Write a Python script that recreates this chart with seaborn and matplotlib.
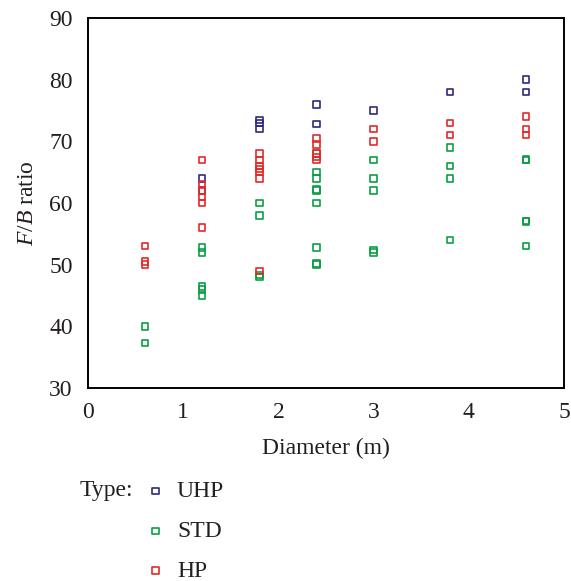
import matplotlib
matplotlib.use("Agg")
import matplotlib.pyplot as plt
import seaborn as sns
import pandas as pd

# values
uhp_x = [1.2, 1.2, 1.8, 1.8, 1.8, 2.4, 2.4, 3.0, 3.8, 4.6, 4.6]
uhp_y = [64, 62, 73.5, 73, 72, 76, 72.8, 75, 78, 80, 78]

std_x = [0.6, 0.6,
         1.2, 1.2, 1.2, 1.2, 1.2,
         1.8, 1.8, 1.8, 1.8,
         2.4, 2.4, 2.4, 2.4, 2.4, 2.4, 2.4, 2.4, 2.4,
         3.0, 3.0, 3.0, 3.0, 3.0,
         3.8, 3.8, 3.8, 3.8,
         4.6, 4.6, 4.6, 4.6, 4.6]
std_y = [40, 37.3,
         52.8, 52, 46.5, 46, 45,
         60, 58, 48, 48.3,
         68, 65, 64, 62, 62.2, 60, 52.8, 50, 50.2,
         67, 64, 62, 52.4, 52,
         69, 66, 64, 54,
         67, 67.1, 57, 57.1, 53]

hp_x = [0.6, 0.6, 0.6,
        1.2, 1.2, 1.2, 1.2, 1.2, 1.2,
        1.8, 1.8, 1.8, 1.8, 1.8, 1.8, 1.8,
        2.4, 2.4, 2.4, 2.4, 2.4,
        3.0, 3.0,
        3.8, 3.8,
        4.6, 4.6, 4.6]
hp_y = [53, 50.5, 50,
        67, 63, 62, 61, 60, 56,
        68, 67, 66, 65.5, 65, 64, 49,
        70.5, 69.5, 68, 67.5, 67,
        72, 70,
        73, 71,
        74, 72, 71]

types = ["UHP", "STD", "HP"]
colors = {"UHP": "#2e2a7e", "STD": "#0a9e44", "HP": "#e42a2a"}

df = pd.concat([
    pd.DataFrame({"diameter": uhp_x, "ratio": uhp_y, "type": "UHP"}),
    pd.DataFrame({"diameter": std_x, "ratio": std_y, "type": "STD"}),
    pd.DataFrame({"diameter": hp_x, "ratio": hp_y, "type": "HP"}),
])

sns.set_style("white")
plt.rcParams["font.family"] = ["Liberation Serif", "DejaVu Serif"]
plt.rcParams["mathtext.fontset"] = "custom"
plt.rcParams["mathtext.rm"] = "Liberation Serif"
plt.rcParams["mathtext.it"] = "Liberation Serif:italic"
plt.rcParams["text.color"] = "#231f20"
plt.rcParams["axes.labelcolor"] = "#231f20"

fig = plt.figure(figsize=(5.71, 5.81), dpi=100)
ax = fig.add_axes([0.154, 0.332, 0.834, 0.637])

for t in types:
    sub = df[df["type"] == t]
    sns.scatterplot(x=sub["diameter"], y=sub["ratio"], ax=ax, marker="s", s=22,
                    color=colors[t], facecolor="none", edgecolor=colors[t],
                    linewidth=1.2, label=t)

ax.set_xlim(0, 5)
ax.set_ylim(30, 90)
ax.set_xticks([0, 1, 2, 3, 4, 5])
ax.set_yticks([30, 40, 50, 60, 70, 80, 90])
for s in ax.spines.values():
    s.set_color("black")
    s.set_linewidth(1.4)
ax.tick_params(axis="both", direction="out", length=4, width=1.2,
               labelsize=17, pad=7, colors="black", labelcolor="#231f20")
ax.tick_params(axis="x", length=3)
ax.tick_params(top=False, right=False)
ax.set_xlabel("Diameter (m)", fontsize=17, labelpad=11)
ax.set_ylabel(r"$F$/$B$ ratio", fontsize=17, labelpad=8)

leg = ax.legend(loc="upper left", bbox_to_anchor=(0.252, 0.173),
                bbox_transform=fig.transFigure, frameon=False, fontsize=17,
                labelspacing=0.78, handletextpad=0.4, handlelength=1.0,
                borderaxespad=0, borderpad=0)
fig.text(0.14, 0.156, "Type:", fontsize=17, va="center", ha="left")

fig.savefig("out.png", dpi=100)
